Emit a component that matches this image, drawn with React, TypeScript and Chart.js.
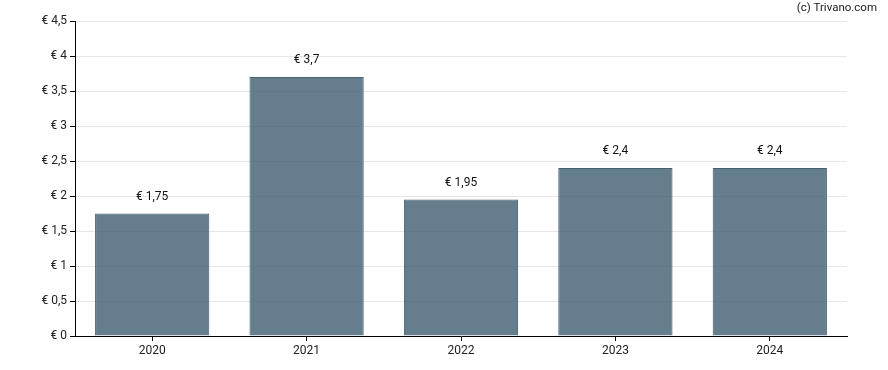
import React, { useEffect, useRef } from "react";
import { Chart, registerables } from "chart.js";

Chart.register(...registerables);

const categories = ["2020", "2021", "2022", "2023", "2024"];
const values = [1.75, 3.7, 1.95, 2.4, 2.4];
const yTicks = [0, 0.5, 1, 1.5, 2, 2.5, 3, 3.5, 4, 4.5];
const copyright = "(c) Trivano.com";

const fmt = (v: number) => "€ " + String(v).replace(".", ",");

export default function App() {
  const ref = useRef<HTMLCanvasElement>(null);
  useEffect(() => {
    document.body.style.margin = "0";
    const labelPlugin = {
      id: "labels",
      afterDatasetsDraw(chart: any) {
        const ctx = chart.ctx;
        const meta = chart.getDatasetMeta(0);
        ctx.save();
        ctx.font = "12px Roboto";
        ctx.fillStyle = "#111";
        ctx.textAlign = "center";
        ctx.textBaseline = "middle";
        meta.data.forEach((bar: any, i: number) => {
          ctx.fillText(fmt(values[i]), bar.x, bar.y - 17);
        });
        ctx.font = "11.5px Roboto";
        ctx.textAlign = "right";
        ctx.fillStyle = "#222";
        ctx.fillText(copyright, 877, 8);
        ctx.restore();
      },
    };
    const chart = new Chart(ref.current!, {
      type: "bar",
      data: {
        labels: categories,
        datasets: [
          {
            data: values,
            backgroundColor: "rgba(62,94,114,0.8)",
            borderColor: "#45606f",
            borderWidth: 1,
            barPercentage: 0.74,
            categoryPercentage: 1,
          },
        ],
      },
      options: {
        animation: false,
        responsive: false,
        devicePixelRatio: 1,
        layout: { padding: { left: 0, right: 41, top: 21, bottom: 0 } },
        plugins: { legend: { display: false }, tooltip: { enabled: false } },
        scales: {
          x: {
            afterFit: (s: any) => {
              s.height = 34;
            },
            grid: {
              offset: false,
              drawOnChartArea: false,
              drawTicks: true,
              tickLength: 5,
              tickColor: "#000",
            },
            border: { color: "#000", width: 1 },
            ticks: { color: "#222", font: { family: "Roboto", size: 12 }, padding: 3 },
          },
          y: {
            min: 0,
            max: 4.5,
            afterFit: (s: any) => {
              s.width = 75;
            },
            afterBuildTicks: (s: any) => {
              s.ticks = yTicks.map((v) => ({ value: v }));
            },
            grid: {
              color: "#e6e6e6",
              tickColor: "#000",
              tickLength: 5,
            },
            border: { color: "#000", width: 1 },
            ticks: {
              color: "#222",
              font: { family: "Roboto", size: 12 },
              padding: 3,
              callback: (v: any) => fmt(Number(v)),
            },
          },
        },
      },
      plugins: [labelPlugin],
    });
    return () => chart.destroy();
  }, []);
  return <canvas ref={ref} width={888} height={370} style={{ display: "block" }} />;
}
